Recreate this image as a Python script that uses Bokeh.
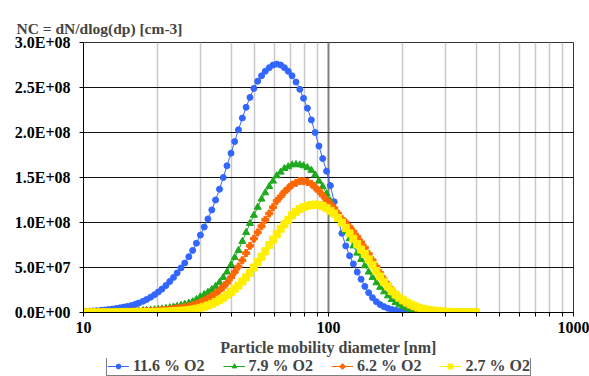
from bokeh.plotting import figure
from bokeh.layouts import column
from bokeh.models import FixedTicker, Legend, LegendItem
from bokeh.embed import file_html
from bokeh.resources import INLINE

# SMPS channel midpoints (nm)
diam_nm = [10.2, 10.6, 10.9, 11.3, 11.8, 12.2, 12.6, 13.1, 13.6, 14.1,
           14.6, 15.1, 15.7, 16.3, 16.8, 17.5, 18.1, 18.8, 19.5, 20.2,
           20.9, 21.7, 22.5, 23.3, 24.1, 25.0, 25.9, 26.9, 27.9, 28.9,
           30.0, 31.1, 32.2, 33.4, 34.6, 35.9, 37.2, 38.5, 40.0, 41.4,
           42.9, 44.5, 46.1, 47.8, 49.6, 51.4, 53.3, 55.2, 57.3, 59.4,
           61.5, 63.8, 66.1, 68.5, 71.0, 73.7, 76.4, 79.1, 82.0, 85.1,
           88.2, 91.4, 94.7, 98.2, 101.8, 105.5, 109.4, 113.4, 117.6, 121.9,
           126.3, 131.0, 135.8, 140.7, 145.9, 151.2, 156.8, 162.5, 168.5, 174.7,
           181.1, 187.7, 194.6, 201.7, 209.1, 216.7, 224.7, 232.9, 241.4, 250.3,
           259.5, 269.0, 278.8, 289.0, 299.6, 310.6, 322.0, 333.8, 346.0, 358.7,
           371.8, 385.4, 399.5]

# dN/dlog(dp) in units of 1e8 cm-3
nc_o2_11_6 = [0.013, 0.015, 0.017, 0.020, 0.024, 0.028, 0.032, 0.038, 0.045, 0.052,
              0.060, 0.068, 0.079, 0.092, 0.105, 0.125, 0.145, 0.170, 0.198, 0.228,
              0.26, 0.30, 0.345, 0.39, 0.44, 0.495, 0.55, 0.62, 0.69, 0.77,
              0.86, 0.95, 1.04, 1.14, 1.25, 1.37, 1.50, 1.63, 1.77, 1.90,
              2.03, 2.16, 2.28, 2.39, 2.49, 2.57, 2.63, 2.68, 2.72, 2.75,
              2.76, 2.75, 2.72, 2.68, 2.63, 2.56, 2.48, 2.38, 2.27, 2.14,
              2.00, 1.85, 1.71, 1.57, 1.41, 1.23, 1.04, 0.88, 0.74, 0.63,
              0.54, 0.45, 0.37, 0.29, 0.22, 0.165, 0.12, 0.088, 0.065, 0.047,
              0.034, 0.025, 0.018, 0.013, 0.009, 0.006, 0.004, 0.003, 0.002, 0.002,
              0.001, 0.001, 0.001, 0.001, 0.001, 0.001, 0.001, 0.001, 0.001, 0.001,
              0.001, 0.001, 0.001]
nc_o2_7_9 = [0.003, 0.003, 0.004, 0.004, 0.005, 0.005, 0.006, 0.007, 0.008, 0.009,
             0.010, 0.012, 0.014, 0.016, 0.018, 0.021, 0.024, 0.027, 0.031, 0.035,
             0.040, 0.046, 0.053, 0.061, 0.070, 0.080, 0.092, 0.105, 0.12, 0.145,
             0.175, 0.20, 0.225, 0.255, 0.29, 0.335, 0.39, 0.45, 0.53, 0.61,
             0.69, 0.79, 0.89, 0.99, 1.08, 1.17, 1.26, 1.33, 1.40, 1.46,
             1.52, 1.56, 1.60, 1.62, 1.64, 1.645, 1.64, 1.63, 1.61, 1.58,
             1.53, 1.46, 1.40, 1.32, 1.24, 1.16, 1.07, 0.99, 0.90, 0.82,
             0.74, 0.66, 0.59, 0.52, 0.45, 0.39, 0.33, 0.28, 0.23, 0.185,
             0.145, 0.11, 0.085, 0.065, 0.048, 0.034, 0.024, 0.017, 0.012, 0.008,
             0.006, 0.004, 0.003, 0.002, 0.002, 0.001, 0.001, 0.001, 0.001, 0.001,
             0.001, 0.001, 0.001]
nc_o2_6_2 = [0.002, 0.002, 0.002, 0.003, 0.003, 0.003, 0.004, 0.004, 0.005, 0.005,
             0.006, 0.007, 0.008, 0.009, 0.010, 0.012, 0.014, 0.016, 0.018, 0.021,
             0.024, 0.028, 0.033, 0.039, 0.045, 0.052, 0.060, 0.070, 0.082, 0.096,
             0.113, 0.133, 0.155, 0.18, 0.21, 0.245, 0.285, 0.33, 0.39, 0.45,
             0.51, 0.58, 0.66, 0.74, 0.82, 0.89, 0.96, 1.03, 1.10, 1.17,
             1.24, 1.29, 1.34, 1.38, 1.42, 1.44, 1.46, 1.46, 1.45, 1.43,
             1.39, 1.35, 1.30, 1.25, 1.21, 1.16, 1.10, 1.04, 1.00, 0.95,
             0.90, 0.84, 0.78, 0.72, 0.65, 0.58, 0.51, 0.44, 0.37, 0.31,
             0.25, 0.20, 0.16, 0.125, 0.097, 0.075, 0.057, 0.043, 0.033, 0.025,
             0.019, 0.014, 0.011, 0.008, 0.006, 0.005, 0.004, 0.003, 0.003, 0.002,
             0.002, 0.002, 0.001]
nc_o2_2_7 = [0.001, 0.001, 0.001, 0.001, 0.001, 0.001, 0.001, 0.001, 0.002, 0.002,
             0.002, 0.002, 0.003, 0.003, 0.003, 0.004, 0.004, 0.005, 0.006, 0.007,
             0.008, 0.009, 0.011, 0.013, 0.016, 0.019, 0.023, 0.028, 0.034, 0.042,
             0.052, 0.064, 0.078, 0.095, 0.115, 0.138, 0.165, 0.195, 0.23, 0.265,
             0.30, 0.345, 0.39, 0.44, 0.50, 0.56, 0.62, 0.68, 0.75, 0.81,
             0.87, 0.93, 0.98, 1.03, 1.08, 1.12, 1.15, 1.17, 1.185, 1.195,
             1.20, 1.195, 1.18, 1.16, 1.13, 1.10, 1.05, 1.00, 0.94, 0.88,
             0.82, 0.76, 0.70, 0.65, 0.59, 0.53, 0.46, 0.40, 0.34, 0.29,
             0.24, 0.20, 0.165, 0.135, 0.11, 0.088, 0.07, 0.055, 0.043, 0.034,
             0.027, 0.021, 0.016, 0.012, 0.009, 0.007, 0.005, 0.004, 0.003, 0.003,
             0.002, 0.002, 0.002]

series_labels = ["11.6 % O2", "7.9 % O2", "6.2 % O2", "2.7 % O2"]
series_values = [nc_o2_11_6, nc_o2_7_9, nc_o2_6_2, nc_o2_2_7]
series_colors = ["#3366FF", "#1EAA1E", "#FF6600", "#FFEE00"]
series_markers = ["circle", "triangle", "plus", "square"]
series_sizes = [6, 7, 7, 7]

y_ticks = [0, 50000000, 100000000, 150000000, 200000000, 250000000, 300000000]
y_tick_labels = ["0.0E+00", "5.0E+07", "1.0E+08", "1.5E+08", "2.0E+08", "2.5E+08", "3.0E+08"]
x_ticks = [10, 100, 1000]
x_tick_labels = ["10", "100", "1000"]
x_minor = [20, 30, 40, 50, 60, 70, 80, 90, 200, 300, 400, 500, 600, 700, 800, 900]

FONT = "Liberation Serif"
FS = "16px"

p = figure(width=589, height=358, x_axis_type="log", x_range=(10, 1000),
           y_range=(0, 3e8), output_backend="svg", toolbar_location=None,
           min_border_left=83, min_border_right=16, min_border_top=42,
           min_border_bottom=46)

p.title.text = "NC = dN/dlog(dp) [cm-3]"
p.title.align = "left"
p.title.offset = -67
p.title.standoff = 11
p.title.text_font = FONT
p.title.text_font_style = "bold"
p.title.text_font_size = "15.5px"

p.outline_line_color = "#333333"
p.outline_line_width = 1
p.background_fill_color = "white"

xt = FixedTicker(ticks=x_ticks, minor_ticks=x_minor)
p.xaxis.ticker = xt
p.xgrid.ticker = xt
p.xaxis.major_label_overrides = dict(zip(x_ticks, x_tick_labels))
p.xgrid.grid_line_color = "#808080"
p.xgrid.grid_line_width = 2
p.xgrid.minor_grid_line_color = "#C8C8C8"
p.xgrid.minor_grid_line_width = 1.5

yt = FixedTicker(ticks=y_ticks)
p.yaxis.ticker = yt
p.ygrid.ticker = yt
p.yaxis.major_label_overrides = dict(zip(y_ticks, y_tick_labels))
p.ygrid.grid_line_color = "#111111"
p.ygrid.grid_line_width = 1

for ax in (p.xaxis, p.yaxis):
    ax.axis_line_color = "black"
    ax.axis_line_width = 1
    ax.major_tick_line_color = "black"
    ax.minor_tick_line_color = "black"
    ax.major_tick_out = 4
    ax.major_tick_in = 0
    ax.minor_tick_out = 4
    ax.minor_tick_in = 0
    ax.major_label_text_font = FONT
    ax.major_label_text_font_style = "bold"
    ax.major_label_text_font_size = FS
    ax.major_label_text_color = "black"
p.yaxis.minor_tick_line_color = None
p.yaxis.major_label_standoff = 9
p.xaxis.major_label_standoff = 5
p.xaxis.axis_label = "Particle mobility diameter [nm]"
p.xaxis.axis_label_text_font = FONT
p.xaxis.axis_label_text_font_style = "bold"
p.xaxis.axis_label_text_font_size = FS
p.xaxis.axis_label_standoff = 3

for vals, col, mk, sz in zip(series_values, series_colors, series_markers, series_sizes):
    ys = [v * 1e8 for v in vals]
    p.line(diam_nm, ys, line_color=col, line_width=1)
    p.scatter(diam_nm, ys, marker=mk, size=sz, fill_color=col, line_color=col)

# legend strip below the chart (its frame is aligned with the chart frame)
pl = figure(width=589, height=18, output_backend="svg", toolbar_location=None,
            x_axis_location=None, y_axis_location=None, min_border=0,
            x_range=(0, 1), y_range=(0, 1))
pl.outline_line_color = None
pl.xgrid.visible = False
pl.ygrid.visible = False
items = []
for lab, vals, col, mk, sz in zip(series_labels, series_values, series_colors,
                                  series_markers, series_sizes):
    ys = [v * 1e8 for v in vals]
    rl = pl.line(diam_nm, ys, line_color=col, line_width=1)
    rs = pl.scatter(diam_nm, ys, marker=mk, size=sz, fill_color=col, line_color=col)
    items.append(LegendItem(label=lab, renderers=[rl, rs]))

legend = Legend(items=items, orientation="horizontal", location=(23, 0))
legend.label_text_font = FONT
legend.label_text_font_style = "bold"
legend.label_text_font_size = FS
legend.glyph_width = 22
legend.glyph_height = 12
legend.label_height = 14
legend.label_standoff = 4
legend.spacing = 18
legend.padding = 0
legend.margin = 0
legend.border_line_color = "black"
legend.border_line_width = 1
legend.background_fill_alpha = 1
pl.add_layout(legend)

layout = column(p, pl, spacing=0)
open("out.html", "w").write(file_html(layout, INLINE))
